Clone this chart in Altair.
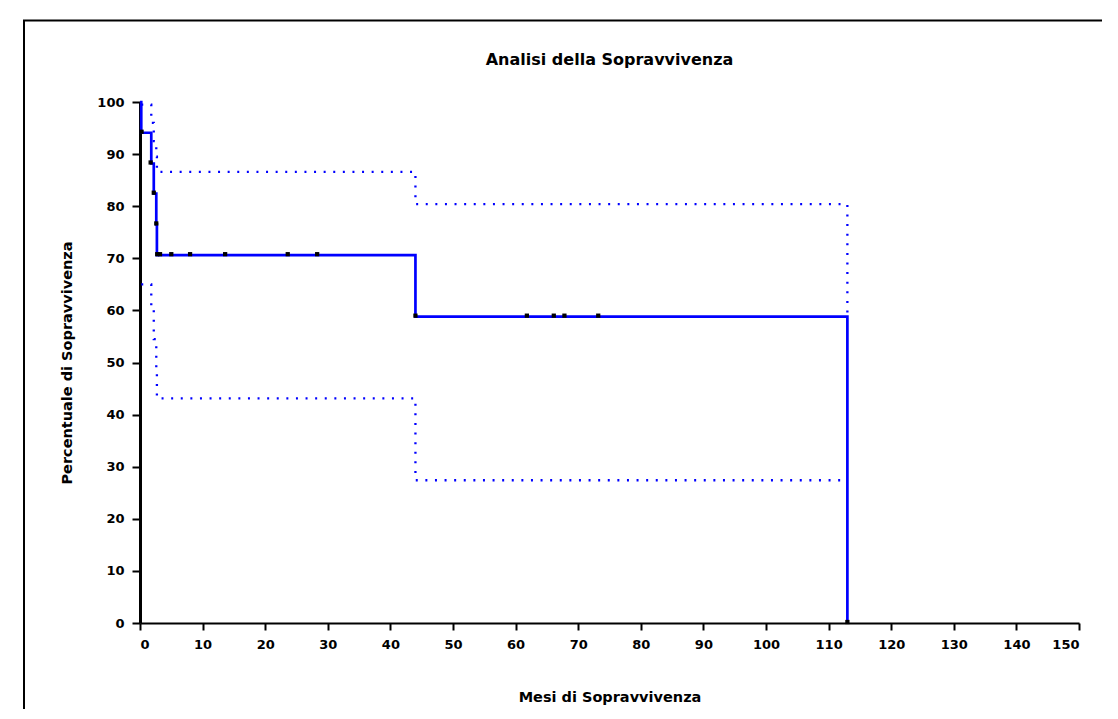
import altair as alt
import pandas as pd

# Kaplan-Meier survival estimate (months, percent)
surv_time = [0, 0.2, 1.8, 2.2, 2.6, 2.7, 44, 113]
surv_pct = [100, 94.1, 88.2, 82.4, 76.5, 70.6, 58.8, 0]

# 95% confidence band
upper_time = [0.2, 1.8, 2.2, 2.6, 2.7, 44, 113]
upper_pct = [99.5, 96.0, 92.5, 89.5, 86.6, 80.4, 58.8]
lower_time = [0.2, 1.8, 2.2, 2.6, 2.7, 44, 113]
lower_pct = [65.0, 61.0, 54.5, 48.5, 43.1, 27.4, 27.4]

# symbols at events and censored observations
event_time = [0.25, 1.7, 2.2, 2.6, 2.75, 44, 113]
event_pct = [94.1, 88.2, 82.4, 76.5, 70.6, 58.8, 0]
censor_time = [3.2, 5.0, 8.0, 13.6, 23.6, 28.3, 61.8, 66.1, 67.8, 73.2]
censor_pct = [70.6, 70.6, 70.6, 70.6, 70.6, 70.6, 58.8, 58.8, 58.8, 58.8]

x_ticks = list(range(0, 151, 10))
y_ticks = list(range(0, 101, 10))

title_text = ["Analisi della Sopravvivenza"]

BLUE = "#0000FF"
FONT = "DejaVu Sans"

surv_df = pd.DataFrame({"t": surv_time, "p": surv_pct})
up_df = pd.DataFrame({"t": upper_time, "p": upper_pct})
lo_df = pd.DataFrame({"t": lower_time, "p": lower_pct})
ev_df = pd.DataFrame({"t": event_time + censor_time, "p": event_pct + censor_pct})
title_df = pd.DataFrame({"txt": title_text})

xs = alt.Scale(domain=[0, 150], nice=False, zero=False)
ys = alt.Scale(domain=[0, 100], nice=False)

x_axis = alt.Axis(
    values=x_ticks, format="d", title="Mesi di Sopravvivenza",
    labelFont=FONT, labelFontSize=13, labelFontWeight="bold", labelColor="black",
    labelPadding=8, tickSize=7, tickWidth=2, tickColor="black",
    domainColor="black", domainWidth=2, grid=False,
    titleFont=FONT, titleFontSize=14.5, titleFontWeight="bold", titleColor="black",
    titleX=469.5, titleY=74, titleBaseline="middle", titleAlign="center",
)
y_axis = alt.Axis(
    values=y_ticks, format="d", title="Percentuale di Sopravvivenza",
    labelFont=FONT, labelFontSize=13, labelFontWeight="bold", labelColor="black",
    labelPadding=8, tickSize=8, tickWidth=2, tickColor="black",
    domainColor="black", domainWidth=3, grid=False,
    titleFont=FONT, titleFontSize=14.5, titleFontWeight="bold", titleColor="black",
    titleX=-73, titleY=260.5, titleBaseline="middle", titleAlign="center", titleAngle=270,
)

X = alt.X("t:Q", scale=xs, axis=x_axis)
Y = alt.Y("p:Q", scale=ys, axis=y_axis)

frame = alt.Chart(pd.DataFrame({"k": [0]})).mark_rect(
    fillOpacity=0, stroke="black", strokeWidth=2
).encode(
    x=alt.value(-116), x2=alt.value(1000), y=alt.value(-81.5), y2=alt.value(640)
)

title = alt.Chart(title_df).mark_text(
    font=FONT, fontSize=16, fontWeight="bold", color="black",
    align="center", baseline="middle"
).encode(text="txt:N", x=alt.value(469.5), y=alt.value(-42))

dots = dict(color=BLUE, strokeWidth=2.3, strokeDash=[2, 7.6], interpolate="step-after")
upper = alt.Chart(up_df).mark_line(**dots).encode(x=X, y=Y)
lower = alt.Chart(lo_df).mark_line(**dots).encode(x=X, y=Y)
surv = alt.Chart(surv_df).mark_line(
    color=BLUE, strokeWidth=2.7, interpolate="step-after"
).encode(x=X, y=Y)
marks = alt.Chart(ev_df).mark_point(
    shape="square", filled=True, color="black", size=18, opacity=1, yOffset=-1
).encode(x=X, y=Y)

chart = alt.layer(frame, title, upper, lower, surv, marks).properties(
    width=939,
    height=521,
    padding={"left": 132, "top": 94, "right": 23, "bottom": 86},
    autosize=alt.AutoSizeParams(type="none"),
).configure(
    background="white", view=alt.ViewConfig(stroke=None)
)

chart.save("out.html", embed_options={"renderer": "svg", "actions": False})
